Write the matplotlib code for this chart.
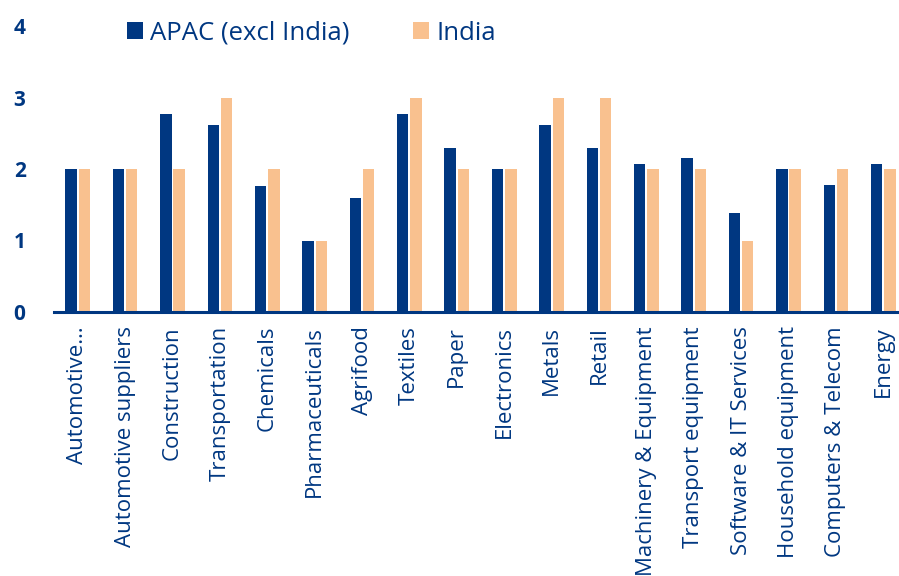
import matplotlib.pyplot as plt
import numpy as np

categories = ["Automotive\u2026", "Automotive suppliers", "Construction", "Transportation",
              "Chemicals", "Pharmaceuticals", "Agrifood", "Textiles", "Paper", "Electronics",
              "Metals", "Retail", "Machinery & Equipment", "Transport equipment",
              "Software & IT Services", "Household equipment", "Computers & Telecom", "Energy"]
apac = [2.0, 2.0, 2.77, 2.62, 1.76, 1.0, 1.6, 2.77, 2.3, 2.0,
        2.62, 2.3, 2.07, 2.15, 1.38, 2.0, 1.77, 2.07]
india = [2, 2, 2, 3, 2, 1, 2, 3, 2, 2, 3, 3, 2, 2, 1, 2, 2, 2]

NAVY = "#003781"
PEACH = "#F9C18F"

plt.rcParams['font.family'] = ['Open Sans', 'DejaVu Sans']

fig = plt.figure(figsize=(8.99, 5.76), dpi=100)
ax = fig.add_axes([54 / 899, 1 - 312 / 576, (907 - 54) / 899, (312 - 26) / 576])

x = np.arange(len(categories))
w = 0.24
ax.bar(x - 0.14, apac, w, color=NAVY, label="APAC (excl India)")
ax.bar(x + 0.14, india, w, color=PEACH, label="India")

ax.set_xlim(-0.5, len(categories) - 0.5)
ax.set_ylim(0, 4)
ax.set_yticks([0, 1, 2, 3, 4])
ax.set_xticks(x)
ax.set_xticklabels(categories, rotation=90, fontsize=16, color=NAVY, fontweight=500)

for lbl in ax.get_yticklabels():
    lbl.set_fontweight('bold')
    lbl.set_color(NAVY)
    lbl.set_fontsize(15)
    lbl.set_horizontalalignment('left')
ax.tick_params(axis='y', length=0, pad=29)
ax.tick_params(axis='x', length=0, pad=10)

for s in ['top', 'right', 'left']:
    ax.spines[s].set_visible(False)
ax.spines['bottom'].set_color(NAVY)
ax.spines['bottom'].set_linewidth(2.2)

fig.legend(loc='center left', bbox_to_anchor=(127 / 899, 1 - 33 / 576), ncol=2, frameon=False,
           borderaxespad=0, borderpad=0,
           handlelength=0.63, handleheight=0.63, handletextpad=0.28, columnspacing=2.45,
           prop={'size': 18.5, 'weight': 500}, labelcolor=NAVY)

fig.savefig("out.png", dpi=100)
